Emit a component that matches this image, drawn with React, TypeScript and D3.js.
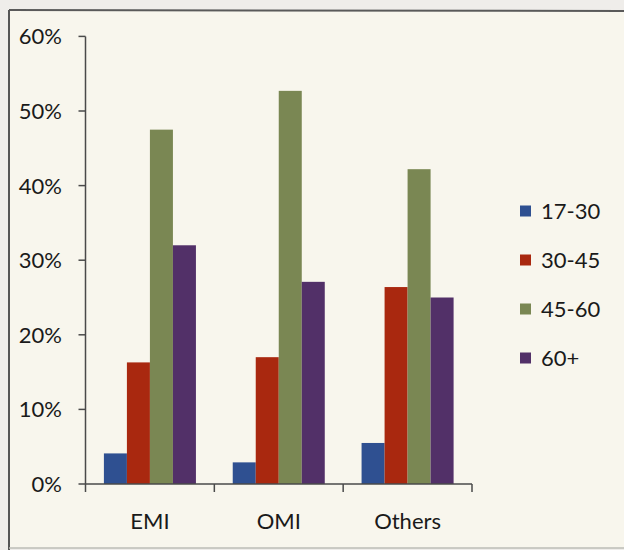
import React from "react";
import * as d3 from "d3";

// Share of household heads by age group, per employment category
const categories = ["EMI", "OMI", "Others"];
const ageGroups = ["17-30", "30-45", "45-60", "60+"];
const age17to30 = [0.041, 0.029, 0.055];
const age30to45 = [0.163, 0.17, 0.264];
const age45to60 = [0.475, 0.527, 0.422];
const age60plus = [0.32, 0.271, 0.25];
const yTicks = [0, 0.1, 0.2, 0.3, 0.4, 0.5, 0.6];

const seriesValues = [age17to30, age30to45, age45to60, age60plus];
const colors = ["#2f5091", "#a9280f", "#7a8753", "#523068"];

const W = 624;
const H = 550;
const FONT = "Lato, 'Open Sans', sans-serif";

export default function App() {
  const left = 85.5;
  const right = 472;
  const top = 36.4;
  const bottom = 484;

  const x0 = d3.scaleBand<string>().domain(categories).range([left, right]).padding(0);
  const x1 = d3
    .scaleBand<string>()
    .domain(ageGroups)
    .range([0, x0.bandwidth()])
    .paddingInner(0)
    .paddingOuter(0.8);
  const y = d3.scaleLinear().domain([0, 0.6]).range([bottom, top]);
  const fmt = d3.format(".0%");

  const boundaries = [...categories.map((c) => x0(c) as number), right];

  return (
    <div style={{ position: "fixed", left: 0, top: 0, width: W, height: H }}>
      <svg width={W} height={H} style={{ display: "block" }}>
        <rect x={0} y={0} width={W} height={H} fill="#efedea" />
        <rect x={9} y={10} width={W} height={538} fill="#f8f6ed" />
        {/* frame: strong top and left edges, faint bottom edge */}
        <line x1={9} x2={W} y1={10} y2={11} stroke="#5a5a5a" strokeWidth={2} />
        <line x1={9} x2={9} y1={10} y2={H} stroke="#555" strokeWidth={2} />
        <line x1={9} x2={W} y1={548} y2={548} stroke="#bdbcb6" strokeWidth={1.5} />

        {/* y axis */}
        <line x1={left} x2={left} y1={top} y2={bottom} stroke="#4a4a4a" strokeWidth={1.5} />
        {yTicks.map((t) => (
          <g key={t}>
            <line x1={left - 7} x2={left} y1={y(t)} y2={y(t)} stroke="#4a4a4a" strokeWidth={1.5} />
            <text
              x={62}
              y={y(t)}
              dy="0.36em"
              textAnchor="end"
              fontFamily={FONT}
              fontSize={22}
              fill="#1a1a1a"
            >
              {fmt(t)}
            </text>
          </g>
        ))}

        {/* bars */}
        {categories.map((c, ci) => (
          <g key={c} transform={`translate(${x0(c)},0)`}>
            {ageGroups.map((g, gi) => {
              const v = seriesValues[gi][ci];
              return (
                <rect
                  key={g}
                  x={x1(g)}
                  y={y(v)}
                  width={x1.bandwidth()}
                  height={bottom - y(v)}
                  fill={colors[gi]}
                />
              );
            })}
          </g>
        ))}

        {/* x axis */}
        <line x1={left} x2={right} y1={bottom} y2={bottom} stroke="#4a4a4a" strokeWidth={1.5} />
        {boundaries.map((bx, i) => (
          <line key={i} x1={bx} x2={bx} y1={bottom} y2={bottom + 8} stroke="#4a4a4a" strokeWidth={1.5} />
        ))}
        {categories.map((c) => (
          <text
            key={c}
            x={(x0(c) as number) + x0.bandwidth() / 2}
            y={529}
            textAnchor="middle"
            fontFamily={FONT}
            fontSize={22}
            fill="#1a1a1a"
          >
            {c}
          </text>
        ))}

        {/* legend */}
        {ageGroups.map((g, i) => {
          const ly = 211 + i * 49;
          return (
            <g key={g}>
              <rect x={520} y={ly - 5.5} width={11} height={11} fill={colors[i]} />
              <text x={541} y={ly} dy="0.36em" fontFamily={FONT} fontSize={22} fill="#1a1a1a">
                {g}
              </text>
            </g>
          );
        })}
      </svg>
    </div>
  );
}
